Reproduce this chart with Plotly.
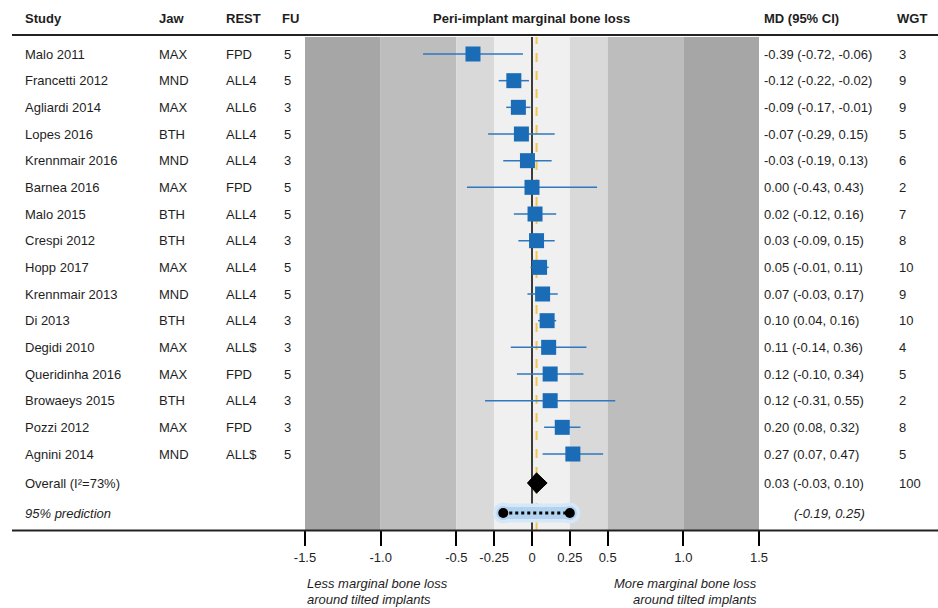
import plotly.graph_objects as go

# ---------------- data ----------------
studies = ["Malo 2011", "Francetti 2012", "Agliardi 2014", "Lopes 2016", "Krennmair 2016",
           "Barnea 2016", "Malo 2015", "Crespi 2012", "Hopp 2017", "Krennmair 2013",
           "Di 2013", "Degidi 2010", "Queridinha 2016", "Browaeys 2015", "Pozzi 2012", "Agnini 2014"]
jaw = ["MAX", "MND", "MAX", "BTH", "MND", "MAX", "BTH", "BTH", "MAX", "MND",
       "BTH", "MAX", "MAX", "BTH", "MAX", "MND"]
rest = ["FPD", "ALL4", "ALL6", "ALL4", "ALL4", "FPD", "ALL4", "ALL4", "ALL4", "ALL4",
        "ALL4", "ALL$", "FPD", "ALL4", "FPD", "ALL$"]
fu = [5, 5, 3, 5, 3, 5, 5, 3, 5, 5, 3, 3, 5, 3, 3, 5]
md = [-0.39, -0.12, -0.09, -0.07, -0.03, 0.00, 0.02, 0.03, 0.05, 0.07, 0.10, 0.11, 0.12, 0.12, 0.20, 0.27]
lo = [-0.72, -0.22, -0.17, -0.29, -0.19, -0.43, -0.12, -0.09, -0.01, -0.03, 0.04, -0.14, -0.10, -0.31, 0.08, 0.07]
hi = [-0.06, -0.02, -0.01, 0.15, 0.13, 0.43, 0.16, 0.15, 0.11, 0.17, 0.16, 0.36, 0.34, 0.55, 0.32, 0.47]
wgt = [3, 9, 9, 5, 6, 2, 7, 8, 10, 9, 10, 4, 5, 2, 8, 5]

overall_label = "Overall (I²=73%)"
overall_md, overall_lo, overall_hi, overall_wgt = 0.03, -0.03, 0.10, 100
pred_label = "95% prediction"
pred_lo, pred_hi = -0.19, 0.25

tick_vals = [-1.5, -1.0, -0.5, -0.25, 0, 0.25, 0.5, 1.0, 1.5]
tick_text = ["-1.5", "-1.0", "-0.5", "-0.25", "0", "0.25", "0.5", "1.0", "1.5"]
band_edges = [-1.5, -1.0, -0.5, -0.25, 0.25, 0.5, 1.0, 1.5]

# ---------------- layout helpers ----------------
W, H = 938, 608
L, R, T, B = 305, 179, 37, 78
PW = W - L - R
PH = H - T - B
ROW0, ROWH = 54.0, 26.667


def xp(px):  # pixel -> paper x
    return (px - L) / PW


def yp(py):  # pixel -> paper y
    return (H - B - py) / PH


def yrow(py):  # pixel -> data y (row units)
    return (py - ROW0) / ROWH


n = len(studies)
ys = list(range(n))
y_overall = yrow(483)
y_pred = yrow(513)

FONT = "Liberation Sans, Arial, Helvetica, sans-serif"
TXT = "#1e1e1e"
FS = 13
BLUE = "#1a6cb6"
LINEBLUE = "#2e79be"

fig = go.Figure()

# bands
band_colors = ["#a6a6a6", "#bdbdbd", "#d9d9d9", "#f0f0f0", "#d9d9d9", "#bdbdbd", "#a6a6a6"]
shapes = []
for i in range(len(band_edges) - 1):
    shapes.append(dict(type="rect", xref="x", yref="paper", x0=band_edges[i], x1=band_edges[i + 1],
                       y0=0, y1=1, fillcolor=band_colors[i], line_width=0, layer="below"))
# zero line
shapes.append(dict(type="line", xref="x", yref="paper", x0=0, x1=0, y0=0, y1=1,
                   line=dict(color="black", width=1.5), layer="below"))
# overall dashed line
shapes.append(dict(type="line", xref="x", yref="paper", x0=overall_md, x1=overall_md, y0=0, y1=1,
                   line=dict(color="#f3c453", width=2, dash="dash"), layer="below"))
# header rule and bottom rule
shapes.append(dict(type="line", xref="paper", yref="paper", x0=xp(12), x1=xp(938), y0=yp(35), y1=yp(35),
                   line=dict(color="#222222", width=2)))
shapes.append(dict(type="line", xref="paper", yref="paper", x0=xp(12), x1=xp(938), y0=yp(530.5), y1=yp(530.5),
                   line=dict(color="#222222", width=2)))

# CI lines
ci_x, ci_y = [], []
for i in range(n):
    ci_x += [lo[i], hi[i], None]
    ci_y += [ys[i], ys[i], None]
fig.add_trace(go.Scatter(x=ci_x, y=ci_y, mode="lines", line=dict(color=LINEBLUE, width=1.5),
                         hoverinfo="skip", showlegend=False))
# squares
fig.add_trace(go.Scatter(x=md, y=ys, mode="markers",
                         marker=dict(symbol="square", size=15, color=BLUE, line=dict(width=0)),
                         showlegend=False))
# overall diamond
dh = 0.38
fig.add_trace(go.Scatter(x=[overall_lo, overall_md, overall_hi, overall_md, overall_lo],
                         y=[y_overall, y_overall - dh, y_overall, y_overall + dh, y_overall],
                         mode="lines", fill="toself", fillcolor="black",
                         line=dict(color="black", width=1), showlegend=False))
# prediction glow
fig.add_trace(go.Scatter(x=[pred_lo, pred_hi], y=[y_pred, y_pred], mode="lines+markers",
                         line=dict(color="#d6e8f7", width=19),
                         marker=dict(size=21, color="#d6e8f7", line=dict(width=0)),
                         showlegend=False, hoverinfo="skip"))
fig.add_trace(go.Scatter(x=[pred_lo, pred_hi], y=[y_pred, y_pred], mode="lines+markers",
                         line=dict(color="#b2d3f0", width=12),
                         marker=dict(size=14, color="#b2d3f0", line=dict(width=0)),
                         showlegend=False, hoverinfo="skip"))
fig.add_trace(go.Scatter(x=[pred_lo, pred_hi], y=[y_pred, y_pred], mode="lines+markers",
                         line=dict(color="black", width=3, dash="dot"),
                         marker=dict(size=10, color="black"),
                         showlegend=False))

# annotations
ann = []


def add_text(text, px, y, yref="y", anchor="left", bold=False, italic=False):
    t = text
    if bold:
        t = "<b>" + t + "</b>"
    if italic:
        t = "<i>" + t + "</i>"
    ann.append(dict(text=t, x=xp(px), xref="paper", y=y, yref=yref, xanchor=anchor,
                    yanchor="middle", showarrow=False, borderpad=0,
                    font=dict(family=FONT, size=FS, color=TXT)))


hy = yp(18)
add_text("Study", 24, hy, "paper", bold=True)
add_text("Jaw", 158, hy, "paper", bold=True)
add_text("REST", 225, hy, "paper", bold=True)
add_text("FU", 281, hy, "paper", bold=True)
add_text("Peri-implant marginal bone loss", 531, hy, "paper", anchor="center", bold=True)
add_text("MD (95% CI)", 763, hy, "paper", bold=True)
add_text("WGT", 896, hy, "paper", bold=True)

for i in range(n):
    add_text(studies[i], 24, ys[i])
    add_text(jaw[i], 158, ys[i])
    add_text(rest[i], 225, ys[i])
    add_text(str(fu[i]), 283, ys[i])
    add_text(f"{md[i]:.2f} ({lo[i]:.2f}, {hi[i]:.2f})", 763, ys[i])
    add_text(str(wgt[i]), 898, ys[i])

add_text(overall_label, 24, y_overall)
add_text(f"{overall_md:.2f} ({overall_lo:.2f}, {overall_hi:.2f})", 763, y_overall)
add_text(str(overall_wgt), 898, y_overall)
add_text(pred_label, 24, y_pred, italic=True)
add_text(f"({pred_lo:.2f}, {pred_hi:.2f})", 793, y_pred, italic=True)

add_text("Less marginal bone loss", 306, yp(583.5), "paper", italic=True)
add_text("around tilted implants", 306, yp(599.5), "paper", italic=True)
add_text("More marginal bone loss", 758, yp(583.5), "paper", anchor="right", italic=True)
add_text("around tilted implants", 758, yp(599.5), "paper", anchor="right", italic=True)

fig.update_layout(
    width=W, height=H,
    margin=dict(l=L, r=R, t=T, b=B, pad=0),
    paper_bgcolor="white", plot_bgcolor="white",
    shapes=shapes, annotations=ann, showlegend=False,
    font=dict(family=FONT, size=FS, color=TXT),
    xaxis=dict(range=[-1.5, 1.5], tickvals=tick_vals, ticktext=tick_text,
               ticks="outside", ticklen=15, tickwidth=1.5, tickcolor="black",
               showgrid=False, zeroline=False, showline=False,
               tickfont=dict(family=FONT, size=FS, color=TXT), fixedrange=True),
    yaxis=dict(range=[yrow(530), yrow(37)], visible=False, showgrid=False,
               zeroline=False, fixedrange=True),
)

fig.write_html("out.html", config={"displayModeBar": False},
               post_script="document.body.style.margin='0';document.body.style.overflow='hidden';")
